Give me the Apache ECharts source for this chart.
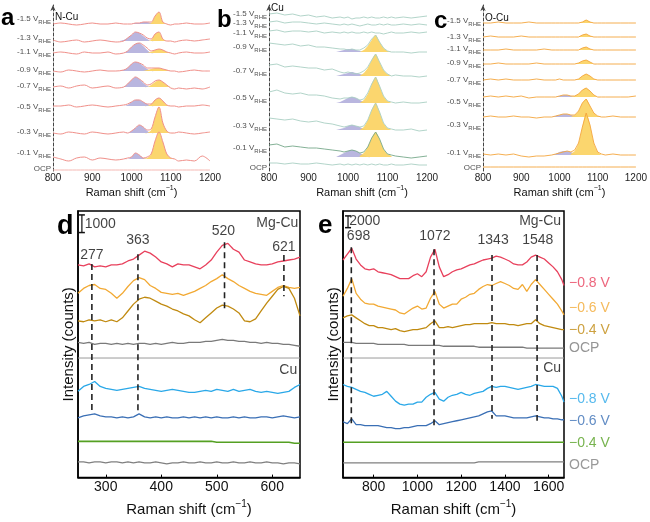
<!DOCTYPE html>
<html><head><meta charset="utf-8">
<script src="https://cdn.jsdelivr.net/npm/echarts@6/dist/echarts.min.js"></script>
<style>html,body{margin:0;padding:0;background:#fff}#c{width:650px;height:522px}</style>
</head><body><div id="c"></div>
<script>
// ---------- Panels a, b, c (in-situ Raman, 800-1200 cm-1) ----------
const X_ABC = [800,820,840,860,880,900,920,940,960,980,990,1000,1010,1020,1030,1040,1050,1060,1070,1080,1090,1100,1110,1120,1140,1160,1180,1200];
const YEL_X = [1030,1040,1050,1060,1070,1080,1090,1100,1110];
const PUR_X = [970,980,990,1000,1010,1020,1030,1040,1050,1060];
const ROW_LABELS = ['-1.5','-1.3','-1.1','-0.9','-0.7','-0.5','-0.3','-0.1','OCP'];

// Panel a: N-Cu
const A_OFFSET = [147,130,118,100,84,65,38,12,1];
const A_LABEL_Y = [152,133,119,101,85,64,39,18,2];
const A_LINES = [
 [0,1,0,-1,0,1,0,0,1,0,0,0,1,1,2,2,2,8,12,2,0,-1,0,0,1,0,0,1],
 [1,-1,0,1,-1,0,1,0,-1,0,3,6,9,8,6,3,2,7,9,2,0,0,-1,0,1,0,1,2],
 [0,1,0,-1,1,0,0,1,-1,0,2,6,9,10,8,5,2,3,4,3,1,0,-1,0,1,0,0,1],
 [0,-1,1,0,-1,0,1,0,0,1,3,7,9,8,6,3,3,3,3,2,1,0,0,-1,0,1,0,0],
 [0,1,-1,1,2,-1,0,1,-1,0,3,7,10,8,5,2,3,6,7,5,2,-1,-2,-1,-2,-1,-2,0],
 [0,0,1,-1,0,1,0,-1,0,1,2,4,6,6,4,2,2,6,8,5,1,0,0,-1,0,0,1,0],
 [0,-1,1,0,-1,1,0,-1,0,1,0,2,5,8,6,3,4,16,26,10,2,0,0,1,0,-1,0,1],
 [2,0,-2,1,2,-1,1,0,-1,0,1,2,6,4,1,2,5,18,27,17,5,1,0,-2,-1,-2,3,-2],
 [0,0,0,0,0,0,0,0,0,0,0,0,0,0,0,0,0,0,0,0,0,0,0,0,0,0,0,0]
];
const A_YEL = [
 [0,0,1,8,12,2,0,0,0],[0,0,1,7,9,2,0,0,0],[0,0,1,3,4,3,1,0,0],[0,1,2,3,3,2,1,0,0],
 [0,0,2,5,7,5,2,0,0],[0,0,2,6,8,5,1,0,0],[0,0,3,16,26,10,2,0,0],[0,1,5,18,27,17,5,1,0],null
];
const A_PUR = [
 [0,0,0,0,1,1,2,2,1,0],[0,1,3,6,9,8,5,2,0,0],[0,0,2,6,9,10,7,3,0,0],[0,1,3,7,9,8,5,2,0,0],
 [0,0,3,7,10,8,4,1,0,0],[0,0,1,4,6,6,4,2,0,0],[0,0,0,2,5,8,6,2,0,0],[0,0,0,2,6,4,1,0,0,0],null
];

// Panel b: Cu
const B_OFFSET = [153,146,138,119,95,68,41,14,6];
const B_LABEL_Y = [157,148,138,124,100,73,45,23,3];
const B_LINES = [
 [4,5,3,4,2,3,1,2,0,1,0,1,-1,0,0,1,0,1,0,0,1,0,1,0,1,0,1,2],
 [3,4,2,3,3,2,1,2,1,0,1,0,1,0,-1,0,1,0,0,1,0,1,0,0,1,0,1,0],
 [2,3,1,2,2,1,2,0,1,0,1,0,1,0,0,1,0,1,0,0,-1,0,1,0,0,1,0,1],
 [9,8,7,8,6,7,5,5,4,3,3,2,3,2,2,4,7,13,17,10,4,1,0,0,0,-1,0,0],
 [11,12,9,10,9,8,8,6,7,4,3,4,3,2,3,5,9,16,22,14,6,2,0,1,0,0,-1,0],
 [11,13,10,9,10,8,8,7,5,4,5,5,6,5,3,4,10,19,26,17,7,2,1,0,1,0,0,1],
 [12,11,10,11,9,8,9,7,6,4,3,4,5,4,3,4,10,20,27,18,7,2,1,0,0,1,-1,0],
 [12,13,10,11,10,9,9,8,7,6,5,6,7,6,4,5,10,19,25,18,8,3,2,1,0,-1,0,1],
 [2,2,1,2,1,1,2,1,0,1,0,1,0,1,0,1,0,1,0,1,0,0,1,0,0,1,0,0]
];
const B_YEL = [null,null,null,
 [0,2,6,12,17,10,4,1,0],[0,3,8,16,22,14,6,2,0],[0,3,9,19,26,17,7,2,0],[0,3,10,20,27,18,7,2,0],[1,4,10,19,25,18,8,3,1],null
];
const B_PUR = [null,null,null,
 [0,1,2,3,3,2,1,0,0,0],[0,1,2,3,4,3,2,1,0,0],[0,1,3,5,6,5,3,1,0,0],[0,1,2,4,5,4,3,1,0,0],[0,2,4,6,7,6,4,2,0,0],null
];

// Panel c: O-Cu
const C_OFFSET = [148,134,121,107,91,74,54,16,4];
const C_LABEL_Y = [150,134,122,108,91,69,46,18,3];
const C_LINES = [
 [0,0,1,0,0,0,1,0,0,0,0,0,0,0,0,0,0,1,3,1,0,0,0,0,0,0,0,0],
 [0,1,0,0,0,1,0,0,0,0,0,0,0,0,0,0,0,2,3,1,0,0,0,0,0,0,0,0],
 [0,0,0,1,0,0,0,0,1,0,0,0,0,0,0,0,0,2,3,1,0,0,0,0,0,0,0,0],
 [0,0,1,0,0,0,0,1,0,0,0,0,0,0,0,0,1,3,4,2,0,0,0,0,0,0,0,0],
 [0,1,0,1,0,0,0,1,0,0,0,1,0,0,0,0,1,4,6,4,1,0,0,0,0,0,0,0],
 [0,1,0,1,0,1,-1,0,0,0,0,1,2,2,1,1,3,7,9,6,2,0,0,0,0,0,0,1],
 [0,1,0,0,1,0,0,-1,0,0,1,2,3,3,2,2,6,14,18,11,4,1,0,0,1,0,0,0],
 [1,0,1,0,1,-1,-2,-1,-1,0,1,2,3,4,3,5,12,28,42,30,12,3,1,0,1,0,0,0],
 [0,0,0,0,0,0,0,0,0,0,0,0,0,0,0,0,0,0,0,0,0,0,0,0,0,0,0,0]
];
const C_YEL = [
 [0,0,0,1,3,1,0,0,0],[0,0,0,2,3,1,0,0,0],[0,0,0,2,3,1,0,0,0],[0,0,1,3,4,2,0,0,0],
 [0,0,1,4,6,4,1,0,0],[0,1,3,7,9,6,2,0,0],[0,2,6,14,18,11,4,1,0],[1,4,12,28,42,30,12,3,0],null
];
const C_PUR = [null,null,null,null,null,
 [0,0,0,1,2,2,1,0,0,0],[0,0,1,2,3,3,2,1,0,0],[0,0,1,3,4,4,3,1,0,0],null
];

// ---------- Panel d (250-650 cm-1) ----------
const D_START = 250, D_STEP = 10;
const D_TICKS = [300,400,500,600];
const D_SERIES = [
 [217,216,218,215,216,215,217,217,218,221,223,227,231,229,225,220,218,215,218,217,217,215,213,217,222,230,237,239,233,230,222,220,218,217,217,218,220,221,222,223,225],
 [188,193,196,197,193,192,188,183,188,195,201,204,202,196,193,189,188,187,188,186,188,190,193,196,200,203,207,203,200,196,193,190,188,187,186,190,194,196,194,193,194],
 [160,159,161,160,161,159,161,159,163,170,177,182,184,183,180,177,175,172,170,167,165,161,158,163,168,173,176,175,172,168,160,159,162,170,178,185,192,195,193,183,165],
 [138,137,138,136,137,137,136,137,136,137,136,137,137,136,137,136,137,138,137,137,138,138,138,139,139,140,141,140,140,139,139,138,138,137,138,137,137,136,136,135,134],
 [88,93,95,98,93,91,90,89,90,91,92,93,91,90,89,88,89,90,89,88,87,87,88,89,88,90,89,88,90,88,89,90,88,87,88,87,86,87,88,92,95],
 [61,63,64,65,63,62,62,61,62,61,62,65,62,61,62,61,62,61,61,62,61,62,61,62,61,62,61,61,62,61,62,61,61,62,62,61,62,63,62,61,62],
 [37,37,37,37,37,37,37,37,37,37,37,37,37,37,37,37,37,37,37,37,37,37,37,37,37,36,36,36,36,36,36,36,36,36,36,36,36,36,36,35,35],
 [16,16,15,16,16,15,16,16,15,16,15,16,15,15,16,15,14,15,15,16,15,15,16,15,15,16,15,15,16,15,15,16,15,15,16,15,15,14,15,15,14]
];
const D_PEAK_LABELS = ['277','363','520','621'];
const D_PEAK_X = [275,358,514,621];
const D_PEAK_TOP = [218,228,240,227];
const D_PEAK_BOTTOM = [67,67,172,185];
const D_LABEL_POS = [[275,227],[358,242],[512,251],[621,235]];

// ---------- Panel e (660-1670 cm-1) ----------
const E_START = 660, E_STEP = 20, E_END = 1670;
const E_TICKS = [800,1000,1200,1400,1600];
const E_SERIES = [
 [222,228,234,223,217,213,212,213,210,209,208,207,205,203,203,203,206,208,205,210,225,233,215,205,207,210,212,213,215,217,218,220,222,223,224,226,225,223,221,218,217,217,220,225,227,225,223,219,215,210,202,196],
 [185,193,203,188,182,178,177,177,175,174,173,172,171,168,167,170,173,175,172,173,183,190,177,173,175,177,177,182,184,187,188,192,195,197,196,198,200,198,196,193,192,197,190,197,202,197,192,187,182,177,170,166],
 [163,165,166,163,160,157,155,155,153,153,152,151,152,150,149,150,151,151,152,153,157,160,153,153,154,153,154,155,156,156,157,157,157,157,158,157,157,157,156,156,155,156,157,157,161,157,155,154,153,152,151,151],
 [138,138,138,137,137,137,137,137,136,136,136,136,136,136,136,135,135,135,135,135,135,135,135,134,134,134,134,134,134,134,134,133,133,133,133,133,133,133,133,133,133,133,132,132,132,132,132,132,132,132,132,132],
 [95,93,92,90,88,87,85,83,84,85,88,83,78,75,74,75,75,77,77,82,85,87,80,78,82,84,85,87,85,84,86,87,88,91,93,92,93,93,92,91,90,91,92,93,95,94,93,93,93,91,83,77],
 [57,55,60,54,54,53,53,53,53,52,51,51,50,50,51,51,52,53,53,53,55,58,54,55,56,57,58,59,60,61,62,63,65,67,68,63,63,63,62,61,61,61,61,62,63,62,61,61,60,60,59,59],
 [36,36,36,36,36,36,36,36,36,36,36,36,36,36,36,36,36,36,36,36,36,36,36,36,36,36,36,36,36,36,36,36,36,36,36,36,36,36,36,36,36,36,36,36,36,36,36,36,36,36,36,36],
 [15,15,15,15,15,15,15,15,15,15,15,15,15,15,15,15,15,15,15,15,15,15,15,15,15,15,15,15,15,15,15,16,16,16,16,16,16,16,16,16,16,16,16,16,16,16,16,16,16,16,16,16]
];
const E_RIGHT_LABELS = ['\u22120.8 V','\u22120.6 V','\u22120.4 V','OCP','\u22120.8 V','\u22120.6 V','\u22120.4 V','OCP'];
const E_RIGHT_Y = [198,173,150,132,80,58,35,13];
const E_PEAK_LABELS = ['698','1072','1343','1548'];
const E_PEAK_X = [698,1076,1341,1547];
const E_PEAK_TOP = [235,233,227,227];
const E_PEAK_BOTTOM = [55,53,60,58];
const E_LABEL_POS = [[731,246],[1080,246],[1346,242],[1550,242]];
const SEPARATOR = 122;

const DE_COLORS = ['#e8405c','#f2a933','#c08a10','#7a7a7a','#2aa8e8','#3a6fb5','#55a023','#808080'];

// ---------- build ----------
const FONT = 'Arial, "Liberation Sans", sans-serif';
const series = [];
const ax = (gi) => ({xAxisIndex: gi, yAxisIndex: gi});

function addLine(gi, data, color, width, smooth, z) {
  series.push(Object.assign({type:'line', data, symbol:'none', showSymbol:false, smooth: smooth || false,
    lineStyle:{color, width}, z: z || 3, silent:true, animation:false, clip:false}, ax(gi)));
}
function addFills(gi, fills) {
  series.push(Object.assign({type:'custom', silent:true, animation:false, z:2, clip:false,
    data: fills.map((f, i) => [f.xs[0], f.base, i]),
    encode: {x:0, y:1},
    renderItem: (params, api) => {
      const f = fills[params.dataIndex];
      const top = f.xs.map((x, j) => api.coord([x, f.base + f.h[j]]));
      const bot = f.xs.slice().reverse().map(x => api.coord([x, f.base]));
      return {type:'polygon', shape:{points: top.concat(bot), smooth:0.3},
        style:{fill:f.color, opacity:0.92}};
    }}, ax(gi)));
}
function addTextPoints(gi, points, labelOpt) {
  series.push(Object.assign({type:'scatter', symbolSize:0, silent:true, animation:false, clip:false, z:5,
    data: points, label: Object.assign({show:true, fontFamily:FONT, color:'#111'}, labelOpt)}, ax(gi)));
}

const YEL = '#fbd262', PUR = '#b3b0dc';
const panelsABC = [
  {gi:0, off:A_OFFSET, lines:A_LINES, yel:A_YEL, pur:A_PUR, ly:A_LABEL_Y, color:'#f0908a', smooth:0.35, width:1},
  {gi:1, off:B_OFFSET, lines:B_LINES, yel:B_YEL, pur:B_PUR, ly:B_LABEL_Y, color:'#a9cfc3', smooth:false, width:0.9},
  {gi:2, off:C_OFFSET, lines:C_LINES, yel:C_YEL, pur:C_PUR, ly:C_LABEL_Y, color:'#f4a53c', smooth:false, width:0.9}
];
panelsABC.forEach(p => {
  const fills = [];
  p.lines.forEach((rel, i) => {
    if (p.pur[i]) fills.push({xs:PUR_X, base:p.off[i], h:p.pur[i], color:PUR});
    if (p.yel[i]) fills.push({xs:YEL_X, base:p.off[i], h:p.yel[i], color:YEL});
    let col = p.color;
    if (p.gi === 1 && i === 7) col = '#76a88a';
    if (p.gi === 0 && i === 8) col = '#f5b8b3';
    addLine(p.gi, X_ABC.map((x, j) => [x, p.off[i] + rel[j]]), col, p.width, p.smooth);
  });
  addFills(p.gi, fills);
  addTextPoints(p.gi, ROW_LABELS.map((t, i) => ({value:[800, p.ly[i]],
      label:{formatter: t === 'OCP' ? '{m|OCP}' : '{m|' + t + ' V}{s|RHE}'}})),
    {position:'left', distance:2, rich:{
      m:{fontSize:8, fontFamily:FONT, color:'#222', lineHeight:12, verticalAlign:'middle'},
      s:{fontSize:6, fontFamily:FONT, color:'#222', lineHeight:12, verticalAlign:'bottom'}}});
});

function addPanelDE(gi, xs, data, peakX, peakTop, peakBot, peakLabels, labelPos, xmin, xmax) {
  data.forEach((vals, i) => addLine(gi, vals.map((v, j) => [xs[j], v]), DE_COLORS[i], i === 6 ? 1.6 : 1.3, false, 3));
  addLine(gi, [[xmin, SEPARATOR], [xmax, SEPARATOR]], '#9a9a9a', 1, false, 2);
  peakX.forEach((x, i) => {
    series.push(Object.assign({type:'line', data:[[x, peakTop[i]], [x, peakBot[i]]], symbol:'none',
      lineStyle:{color:'#222', width:1.6, type:[6,4]}, z:4, silent:true, animation:false}, ax(gi)));
  });
  addTextPoints(gi, peakLabels.map((t, i) => ({value: labelPos[i], label:{formatter:t}})),
    {position:'inside', fontSize:14, color:'#111'});
}

const D_X = D_SERIES[0].map((_, j) => D_START + j * D_STEP);
const E_X = E_SERIES[0].map((_, j) => Math.min(E_START + j * E_STEP, E_END));
addPanelDE(3, D_X, D_SERIES, D_PEAK_X, D_PEAK_TOP, D_PEAK_BOTTOM, D_PEAK_LABELS, D_LABEL_POS, 250, 650);
addPanelDE(4, E_X, E_SERIES, E_PEAK_X, E_PEAK_TOP, E_PEAK_BOTTOM, E_PEAK_LABELS, E_LABEL_POS, 660, 1670);

// scale bars
function addScaleBar(gi, x, y0, y1) {
  series.push(Object.assign({type:'line', data:[[x, y0], [x, y1]], symbol:'rect', symbolSize:[6, 1.5], showSymbol:true,
    itemStyle:{color:'#111'}, lineStyle:{color:'#111', width:1.2}, z:5, silent:true, animation:false}, ax(gi)));
}
addScaleBar(3, 257, 250, 268);
addScaleBar(4, 683, 255, 267);
addTextPoints(3, [{value:[262, 259], label:{formatter:'1000'}}], {position:'right', distance:0, fontSize:14});
addTextPoints(4, [{value:[688, 262], label:{formatter:'2000'}}], {position:'right', distance:0, fontSize:14});
addTextPoints(3, [{value:[647, 260], label:{formatter:'Mg-Cu'}}, {value:[645, 110], label:{formatter:'Cu'}}], {position:'left', distance:0, fontSize:14});
addTextPoints(4, [{value:[1657, 262], label:{formatter:'Mg-Cu'}}, {value:[1657, 112], label:{formatter:'Cu'}}], {position:'left', distance:0, fontSize:14});
addTextPoints(4, E_RIGHT_LABELS.map((t, i) => ({value:[1670, E_RIGHT_Y[i]], label:{formatter:t, color:DE_COLORS[i]}})),
  {position:'right', distance:5, fontSize:14});

// axes
const plain = v => String(v);
const nameRich = (fs) => ({m:{fontSize:fs, fontFamily:FONT, color:'#111', lineHeight:fs+5, verticalAlign:'middle'},
  sup:{fontSize:Math.round(fs*0.65), fontFamily:FONT, color:'#111', lineHeight:fs+5, verticalAlign:'top'}});
const RAMAN = '{m|Raman shift (cm}{sup|\u22121}{m|)}';
const xAxes = [0,1,2].map(i => ({gridIndex:i, type:'value', min:800, max:1200, interval:100,
  axisLine:{show:false}, axisTick:{show:false}, splitLine:{show:false},
  axisLabel:{fontSize:10, fontFamily:FONT, color:'#222', margin:2, formatter:plain},
  name:RAMAN, nameLocation:'middle', nameGap:14,
  nameTextStyle:{rich:nameRich(11), padding: i === 1 ? [0,0,0,28] : 0}}));
xAxes.push({gridIndex:3, type:'value', min:250, max:650,
  axisLine:{show:true, lineStyle:{color:'#000', width:1.5}}, splitLine:{show:false},
  axisTick:{show:true, customValues:D_TICKS, length:3, inside:true, lineStyle:{color:'#000'}},
  axisLabel:{customValues:D_TICKS, fontSize:14, fontFamily:FONT, color:'#111', margin:3, formatter:plain},
  name:RAMAN, nameLocation:'middle', nameGap:18, nameTextStyle:{rich:nameRich(15)}});
xAxes.push({gridIndex:4, type:'value', min:660, max:1670,
  axisLine:{show:true, lineStyle:{color:'#000', width:1.5}}, splitLine:{show:false},
  axisTick:{show:true, customValues:E_TICKS, length:3, inside:true, lineStyle:{color:'#000'}},
  axisLabel:{customValues:E_TICKS, fontSize:14, fontFamily:FONT, color:'#111', margin:3, formatter:plain},
  name:RAMAN, nameLocation:'middle', nameGap:18, nameTextStyle:{rich:nameRich(15)}});

const yAxes = [0,1,2].map(i => ({gridIndex:i, type:'value', min:0, max:166,
  axisLine:{show:true, onZero:false, symbol:['none','arrow'], symbolSize:[4,6],
    lineStyle:{color:'#444', width:1, type:[3,2]}},
  axisTick:{show:false}, axisLabel:{show:false}, splitLine:{show:false}}));
[3,4].forEach(i => yAxes.push({gridIndex:i, type:'value', min:0, max:272,
  axisLine:{show:true, onZero:false, lineStyle:{color:'#000', width:1.5}},
  axisTick:{show:false}, axisLabel:{show:false}, splitLine:{show:false},
  name:'Intensity (counts)', nameLocation:'middle', nameGap:2,
  nameTextStyle:{fontSize:15, fontFamily:FONT, color:'#111'}}));

const letter = (t, x, y, fs) => ({type:'text', x, y, silent:true,
  style:{text:t, fontSize:fs, fontWeight:'bold', fontFamily:FONT, fill:'#000', verticalAlign:'middle'}});
const tag = (t, x, y) => ({type:'text', x, y, silent:true,
  style:{text:t, fontSize:10, fontFamily:FONT, fill:'#111', verticalAlign:'middle'}});

const option = {
  animation:false,
  backgroundColor:'#fff',
  grid:[
    {left:53, top:5, width:157, height:166},
    {left:269, top:5, width:158, height:166},
    {left:483, top:5, width:156, height:166},
    {left:78, top:211, width:222, height:272, show:true, borderColor:'#000', borderWidth:1.5},
    {left:343, top:211, width:221, height:272, show:true, borderColor:'#000', borderWidth:1.5}
  ],
  xAxis:xAxes, yAxis:yAxes, series,
  graphic:[
    letter('a', 1, 18, 24), letter('b', 217, 20, 24), letter('c', 434, 21, 24),
    letter('d', 57, 227, 27), letter('e', 318, 226, 26),
    tag('N-Cu', 55, 17), tag('Cu', 271, 8), tag('O-Cu', 485, 18)
  ]
};
echarts.init(document.getElementById('c')).setOption(option);
</script></body></html>
